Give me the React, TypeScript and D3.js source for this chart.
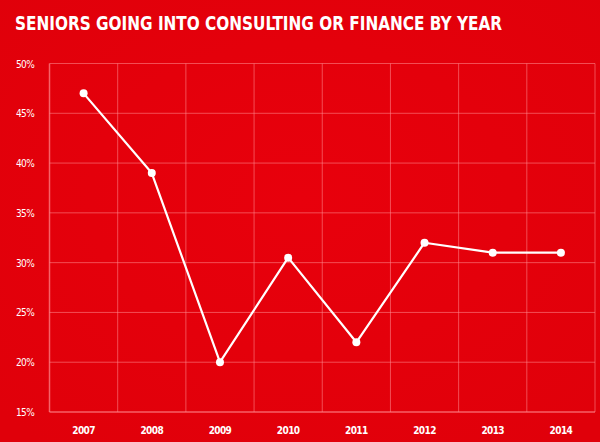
import * as d3 from 'd3';
import { useMemo } from 'react';

const years = ['2007', '2008', '2009', '2010', '2011', '2012', '2013', '2014'];
const share = [47, 39, 20, 30.5, 22, 32, 31, 31];
const yTicks = [15, 20, 25, 30, 35, 40, 45, 50];

const width = 600;
const height = 442;
const margin = { top: 63.5, right: 5, bottom: 30, left: 49.5 };
const font = "'DejaVu Sans Condensed', 'Liberation Sans Narrow', sans-serif";

export default function App() {
    const { x, y, path } = useMemo(() => {
        const x = d3
            .scaleBand<string>()
            .domain(years)
            .range([margin.left, width - margin.right]);
        const y = d3
            .scaleLinear()
            .domain([15, 50])
            .range([height - margin.bottom, margin.top]);
        const line = d3
            .line<number>()
            .x((_, i) => (x(years[i]) ?? 0) + x.bandwidth() / 2)
            .y((d) => y(d));
        return { x, y, path: line(share) ?? '' };
    }, []);

    const bw = x.bandwidth();

    return (
        <div style={{ position: 'absolute', left: 0, top: 0 }}>
            <svg width={width} height={height} viewBox={`0 0 ${width} ${height}`}>
                <defs>
                    <radialGradient id="bg" cx="50%" cy="45%" r="70%">
                        <stop offset="0%" stopColor="#e8000c" />
                        <stop offset="100%" stopColor="#e0000a" />
                    </radialGradient>
                </defs>
                <rect width={width} height={height} fill="url(#bg)" />
                <text
                    x={15}
                    y={30}
                    fill="#fff"
                    fontFamily={font}
                    fontWeight="bold"
                    fontSize={19}
                    textLength={487}
                    lengthAdjust="spacingAndGlyphs"
                >
                    SENIORS GOING INTO CONSULTING OR FINANCE BY YEAR
                </text>

                {/* grid */}
                {yTicks.map((t) => (
                    <line
                        key={t}
                        x1={margin.left}
                        x2={width - margin.right}
                        y1={y(t)}
                        y2={y(t)}
                        stroke="#ff8a8f"
                        strokeOpacity={0.7}
                        strokeWidth={t === 15 ? 1.5 : 0.8}
                    />
                ))}
                {years.map((yr) => (
                    <line
                        key={yr}
                        x1={x(yr)}
                        x2={x(yr)}
                        y1={margin.top}
                        y2={height - margin.bottom}
                        stroke="#ff8a8f"
                        strokeOpacity={0.7}
                        strokeWidth={yr === years[0] ? 1.5 : 0.8}
                    />
                ))}
                <line
                    x1={width - margin.right}
                    x2={width - margin.right}
                    y1={margin.top}
                    y2={height - margin.bottom}
                    stroke="#ff8a8f"
                    strokeOpacity={0.7}
                    strokeWidth={0.8}
                />

                {/* axis labels */}
                {yTicks.map((t) => (
                    <text
                        key={t}
                        x={16}
                        y={y(t) + 4}
                        fill="#fff"
                        fontFamily={font}
                        fontSize={10}
                        letterSpacing={-0.6}
                    >
                        {t}%
                    </text>
                ))}
                {years.map((yr) => (
                    <text
                        key={yr}
                        x={(x(yr) ?? 0) + bw / 2}
                        y={height - 8}
                        textAnchor="middle"
                        fill="#fff"
                        fontFamily={font}
                        fontWeight="bold"
                        fontSize={10}
                        letterSpacing={-0.6}
                    >
                        {yr}
                    </text>
                ))}

                <path d={path} fill="none" stroke="#fff" strokeWidth={2.2} strokeLinejoin="round" />
                {share.map((v, i) => (
                    <circle
                        key={years[i]}
                        cx={(x(years[i]) ?? 0) + bw / 2}
                        cy={y(v)}
                        r={4}
                        fill="#fff"
                    />
                ))}
            </svg>
        </div>
    );
}
